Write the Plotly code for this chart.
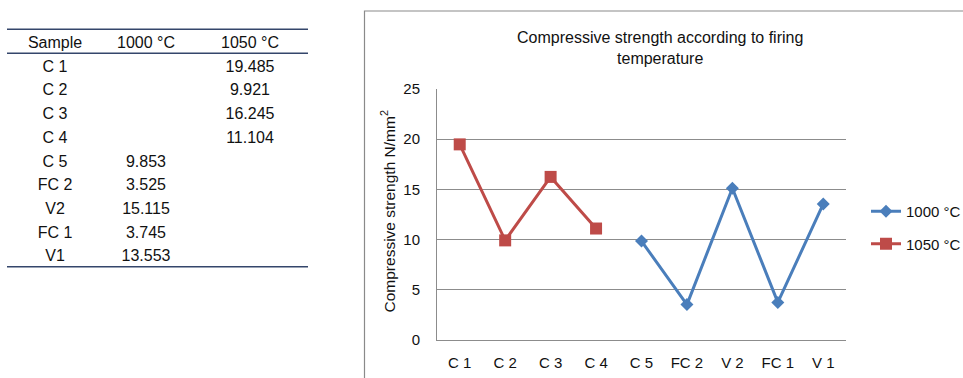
import plotly.graph_objects as go

# ---------------- data ----------------
TABLE_HEADERS = ["Sample", "1000 °C", "1050 °C"]
TABLE_SAMPLES = ["C 1", "C 2", "C 3", "C 4", "C 5", "FC 2", "V2", "FC 1", "V1"]
CHART_LABELS = ["C 1", "C 2", "C 3", "C 4", "C 5", "FC 2", "V 2", "FC 1", "V 1"]
T1000 = [None, None, None, None, 9.853, 3.525, 15.115, 3.745, 13.553]
T1050 = [19.485, 9.921, 16.245, 11.104, None, None, None, None, None]
SERIES_NAMES = ["1000 °C", "1050 °C"]
TITLE = "Compressive strength according to firing<br>temperature"
Y_TITLE = "Compressive strength N/mm<sup>2</sup>"

# ---------------- styles ----------------
W, H = 963, 378
FONT = "Liberation Sans, Arial, sans-serif"
BLUE = "#4A7EBB"
RED = "#BE4B48"
GRID = "#8C8C8C"
RULE = "#34466B"
COL_POS = [55, 146, 250]          # table column centres (px in table axis)
TABLE_FONT = dict(size=16, color="#111", family=FONT)


def px(x):
    return x / W


def py(y):
    return 1 - y / H


fig = go.Figure()

# ---------- table (text marks on its own hidden axes) ----------
rows = list(range(len(TABLE_SAMPLES)))
fig.add_trace(go.Scatter(x=COL_POS, y=[-1] * 3, text=TABLE_HEADERS, mode="text",
                         textfont=TABLE_FONT, xaxis="x2", yaxis="y2",
                         showlegend=False, hoverinfo="skip"))
fig.add_trace(go.Scatter(x=[COL_POS[0]] * len(rows), y=rows, text=TABLE_SAMPLES, mode="text",
                         textfont=TABLE_FONT, xaxis="x2", yaxis="y2",
                         showlegend=False, hoverinfo="skip"))
for col, vals in ((1, T1000), (2, T1050)):
    idx = [i for i, v in enumerate(vals) if v is not None]
    fig.add_trace(go.Scatter(x=[COL_POS[col]] * len(idx), y=idx,
                             text=[f"{vals[i]:.3f}" for i in idx], mode="text",
                             textfont=TABLE_FONT, xaxis="x2", yaxis="y2",
                             showlegend=False, hoverinfo="skip"))

# ---------- chart ----------
fig.add_trace(go.Scatter(x=CHART_LABELS, y=T1000, name=SERIES_NAMES[0], mode="lines+markers",
                         line=dict(color=BLUE, width=3),
                         marker=dict(symbol="diamond", size=10, color=BLUE),
                         legendgroup="a", connectgaps=False))
fig.add_trace(go.Scatter(x=CHART_LABELS, y=T1050, name=SERIES_NAMES[1], mode="lines+markers",
                         line=dict(color=RED, width=3),
                         marker=dict(symbol="square", size=12, color=RED),
                         legendgroup="b", connectgaps=False))

shapes = [
    # chart frame
    dict(type="rect", xref="paper", yref="paper", x0=px(364.5), x1=1.02, y0=-0.05, y1=py(11),
         line=dict(color="#8A8A8A", width=1.2), layer="below"),
    # table rules
    dict(type="line", xref="paper", yref="paper", x0=px(7), x1=px(308), y0=py(29.3), y1=py(29.3),
         line=dict(color=RULE, width=1.5)),
    dict(type="line", xref="paper", yref="paper", x0=px(7), x1=px(308), y0=py(53.3), y1=py(53.3),
         line=dict(color=RULE, width=1.5)),
    dict(type="line", xref="paper", yref="paper", x0=px(7), x1=px(308), y0=py(266.7), y1=py(266.7),
         line=dict(color=RULE, width=1.5)),
]

fig.update_layout(
    width=W, height=H, autosize=False,
    margin=dict(l=0, r=0, t=0, b=0, pad=0, autoexpand=False),
    paper_bgcolor="white", plot_bgcolor="white",
    font=dict(family=FONT, size=15, color="#111"),
    showlegend=True,
    legend=dict(x=px(866), y=py(195), xanchor="left", yanchor="top",
                font=dict(size=15, family=FONT, color="#111"),
                tracegroupgap=10, bgcolor="rgba(0,0,0,0)"),
    shapes=shapes,
    annotations=[
        dict(text=TITLE, x=px(660), y=py(48), xref="paper", yref="paper",
             xanchor="center", yanchor="middle", showarrow=False,
             font=dict(size=16, family=FONT, color="#111")),
        dict(text=Y_TITLE, x=px(388), y=py(211.5), xref="paper", yref="paper",
             xanchor="center", yanchor="middle", showarrow=False, textangle=-90,
             font=dict(size=15.5, family=FONT, color="#111")),
    ],
    xaxis=dict(domain=[px(437), px(846)], type="category", categoryarray=CHART_LABELS,
               range=[-0.5, 8.5], showgrid=False, showline=True, linecolor=GRID, linewidth=1,
               ticks="", ticklabelstandoff=9, tickfont=dict(size=15, color="#111"),
               zeroline=False, fixedrange=True, automargin=False),
    yaxis=dict(domain=[py(340), py(89)], range=[0, 25], dtick=5, showgrid=True,
               gridcolor=GRID, gridwidth=1, showline=True, linecolor=GRID, linewidth=1,
               ticks="", ticklabelstandoff=13, tickfont=dict(size=15, color="#111"),
               zeroline=False, fixedrange=True, automargin=False),
    xaxis2=dict(domain=[0, px(320)], range=[0, 320], visible=False, anchor="y2", fixedrange=True),
    yaxis2=dict(domain=[py(269.2), py(32.15)], range=[8.5, -1.5], visible=False, anchor="x2",
                fixedrange=True),
)

fig.write_html("out.html")
